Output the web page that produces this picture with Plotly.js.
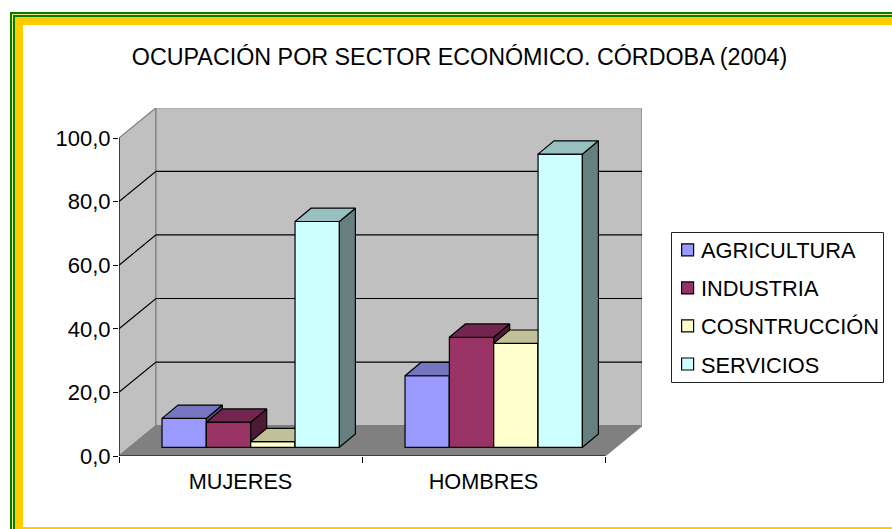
<!DOCTYPE html>
<html><head><meta charset="utf-8">
<script src="https://cdn.plot.ly/plotly-3.0.1.min.js"></script>
<style>html,body{margin:0;padding:0;background:#fff;overflow:hidden}#c{width:892px;height:529px}</style>
</head><body><div id="c"></div>
<script>
const categories = ["MUJERES", "HOMBRES"];
const seriesNames = ["AGRICULTURA", "INDUSTRIA", "COSNTRUCCIÓN", "SERVICIOS"];
const agricultura = [9.1, 22.5];
const industria = [7.9, 34.6];
const construccion = [1.8, 32.7];
const servicios = [71.0, 92.2];
const yTicks = [0, 20, 40, 60, 80, 100];
const yTickLabels = ["0,0", "20,0", "40,0", "60,0", "80,0", "100,0"];
const frontColors = ["#9999FF", "#993366", "#FFFFCC", "#CCFFFF"];
const topColors = ["#7676C0", "#73264D", "#C0C099", "#99C0C0"];
const sideColors = ["#4D4D80", "#4D1A33", "#808066", "#668080"];

const W = 892, H = 529;
const px = x => x / W, py = y => 1 - y / H;
const X0 = 119, X1 = 642, Y0 = 456, Y1 = 108, catPx = 243, valPx = 3.18;
const wallDX = 37 / catPx, wallDY = 30.3 / valPx;
const floorLift = 8.7 / valPx, barStart = 0.177, barW = 0.1825;
const depthDX = 16 / catPx, depthDY = 13.3 / valPx;
const xRange = [0, (X1 - X0) / catPx], yRange = [0, (Y0 - Y1) / valPx];
const allSeries = [agricultura, industria, construccion, servicios];
const FONT = "Liberation Sans";

const traces = [];
allSeries.forEach((vals, s) => {
  const xa = s === 0 ? "x" : "x" + (s + 1), ya = s === 0 ? "y" : "y" + (s + 1);
  const lefts = vals.map((_, c) => c + barStart + s * barW);
  traces.push({
    type: "bar", name: seriesNames[s], x: lefts.map(l => l + barW / 2), y: vals,
    base: vals.map(() => floorLift), width: barW, xaxis: xa, yaxis: ya,
    legendgroup: seriesNames[s], hoverinfo: "skip",
    marker: {color: frontColors[s], line: {color: "#000", width: 1.2}}
  });
  const sx = [], sy = [], tx = [], ty = [];
  vals.forEach((v, c) => {
    const l = lefts[c], r = l + barW, t = floorLift + v;
    sx.push(r, r + depthDX, r + depthDX, r, r, null);
    sy.push(floorLift, floorLift + depthDY, t + depthDY, t, floorLift, null);
    tx.push(l, r, r + depthDX, l + depthDX, l, null);
    ty.push(t, t, t + depthDY, t + depthDY, t, null);
  });
  [[sx, sy, sideColors[s]], [tx, ty, topColors[s]]].forEach(f => traces.push({
    type: "scatter", mode: "lines", x: f[0], y: f[1], fill: "toself", fillcolor: f[2],
    line: {color: "#000", width: 1.2}, xaxis: xa, yaxis: ya, showlegend: false,
    legendgroup: seriesNames[s], hoverinfo: "skip"
  }));
});

const rect = (x0, y0, x1, y1, fill, line) => ({
  type: "rect", xref: "paper", yref: "paper", layer: "below",
  x0: px(x0), x1: px(x1), y0: py(y0), y1: py(y1), fillcolor: fill,
  line: line ? {color: line, width: 1} : {width: 0}
});
const poly = (pts, fill, line) => ({
  type: "path", xref: "x", yref: "y", layer: "below",
  path: pts.map((p, i) => (i ? "L" : "M") + p[0] + "," + p[1]).join(" ") + (fill ? " Z" : ""),
  fillcolor: fill || "rgba(0,0,0,0)", line: {color: line, width: 1.2}
});
const xEnd = categories.length;
const shapes = [
  rect(10, 12, 920, 560, "#008000"),
  rect(12, 14, 920, 560, "#FFE680"),
  rect(13, 15, 920, 560, "#008000"),
  rect(15, 17, 920, 560, "#FFCC00"),
  rect(23, 25, 920, 527, "#FFFFFF"),
  rect(671.5, 232.5, 883.5, 382.5, "#FFFFFF", "#222222"),
  poly([[0, 0], [wallDX, wallDY], [wallDX, 100 + wallDY], [0, 100]], "#C0C0C0", "#808080"),
  poly([[wallDX, wallDY], [xEnd + wallDX, wallDY], [xEnd + wallDX, 100 + wallDY], [wallDX, 100 + wallDY]], "#C0C0C0", "#808080"),
  poly([[0, 0], [xEnd, 0], [xEnd + wallDX, wallDY], [wallDX, wallDY]], "#808080", "#808080"),
];
yTicks.filter(v => v > 0 && v < 100).forEach(v => shapes.push(
  poly([[0, v], [wallDX, v + wallDY], [xEnd + wallDX, v + wallDY]], null, "#000000")));
shapes.push(poly([[0, 0], [0, 100]], null, "#000000"));
shapes.push(poly([[0, 0], [xEnd, 0]], null, "#000000"));

const layout = {
  width: W, height: H, margin: {l: 0, r: 0, t: 0, b: 0, autoexpand: false},
  paper_bgcolor: "#fff", plot_bgcolor: "rgba(0,0,0,0)",
  font: {family: FONT, color: "#000", size: 22},
  title: {text: "OCUPACIÓN POR SECTOR ECONÓMICO. CÓRDOBA (2004)", x: px(459.5), xanchor: "center",
    y: py(57), yanchor: "middle", font: {family: FONT, size: 23.3, color: "#000"}},
  barmode: "overlay", showlegend: true, shapes,
  legend: {x: px(667.6), xanchor: "left", y: py(229.2), yanchor: "top", traceorder: "grouped",
    tracegroupgap: 6.7, bgcolor: "rgba(0,0,0,0)", borderwidth: 0, font: {family: FONT, size: 21.8, color: "#000"}},
  xaxis: {domain: [px(X0), px(X1)], range: xRange, showgrid: false, zeroline: false, showline: false,
    tickmode: "array", tickvals: categories.map((_, i) => i + 0.5), ticktext: categories, ticks: "",
    ticklen: 0, ticklabelstandoff: 10, tickfont: {family: FONT, size: 21.7},
    minor: {tickmode: "array", tickvals: [0, 1, 2], ticks: "outside", ticklen: 6, tickcolor: "#000", tickwidth: 1, showgrid: false}},
  yaxis: {domain: [py(Y0), py(Y1)], range: yRange, showgrid: false, zeroline: false, showline: false,
    tickmode: "array", tickvals: yTicks, ticktext: yTickLabels, ticks: "outside", ticklen: 5,
    ticklabelstandoff: -2, tickcolor: "#000", tickwidth: 1, tickfont: {family: FONT, size: 22}}
};
[2, 3, 4].forEach(k => {
  layout["xaxis" + k] = {overlaying: "x", range: xRange, visible: false, anchor: "y" + k};
  layout["yaxis" + k] = {overlaying: "y", range: yRange, visible: false, anchor: "x" + k};
});

Plotly.newPlot("c", traces, layout, {staticPlot: true, displayModeBar: false}).then(() => {
  document.querySelectorAll(".legendtext").forEach(t => {
    t.setAttribute("x", "33.4");
    t.querySelectorAll("tspan").forEach(s => { if (s.hasAttribute("x")) s.setAttribute("x", "33.4"); });
  });
});
</script></body></html>
